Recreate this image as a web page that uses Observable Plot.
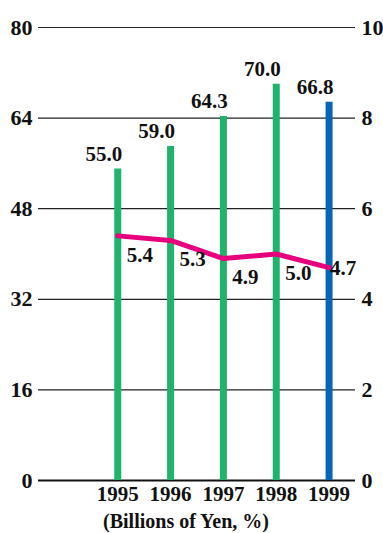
<!DOCTYPE html>
<html>
<head>
<meta charset="utf-8">
<script src="https://cdn.jsdelivr.net/npm/d3@7"></script>
<script src="https://cdn.jsdelivr.net/npm/@observablehq/plot@0.6"></script>
<style>
  html, body { margin: 0; padding: 0; background: #fff; }
  svg { display: block; }
  svg text, svg g { font-family: "Liberation Serif", "DejaVu Serif", serif !important; font-weight: bold; }
</style>
</head>
<body>
<div id="chart"></div>
<script>
const years = [1995, 1996, 1997, 1998, 1999];
const amounts = [55.0, 59.0, 64.3, 70.0, 66.8];       // billions of yen (left axis)
const percents = [5.4, 5.3, 4.9, 5.0, 4.7];           // % (right axis)
const barColors = ["#20b36b", "#20b36b", "#20b36b", "#20b36b", "#0766b3"];
const leftTicks = [0, 16, 32, 48, 64, 80];
const rightTicks = [0, 2, 4, 6, 8, 10];
const caption = "(Billions of Yen, %)";

const ratio = 80 / 10;
const data = years.map((y, i) => ({year: y, amount: amounts[i], pct: percents[i], color: barColors[i], i}));

const font = "Liberation Serif";

const plot = Plot.plot({
  width: 383,
  height: 533,
  marginLeft: 38,
  marginRight: 28,
  marginTop: 27,
  marginBottom: 53,
  style: {fontFamily: font, fontWeight: "bold", fontSize: "21px", color: "#111", background: "#fff"},
  x: {domain: [1993.5, 1999.5], axis: null},
  y: {domain: [0, 80], axis: null},
  marks: [
    Plot.ruleY(leftTicks.filter(d => d > 0), {stroke: "#222", strokeWidth: 1.2}),
    Plot.ruleY([0], {stroke: "#111", strokeWidth: 2}),
    Plot.axisY(leftTicks, {anchor: "left", tickSize: 0, tickPadding: 6, fontSize: 22, fontWeight: "bold", fontFamily: font, label: null}),
    Plot.axisY(rightTicks.map(d => d * ratio), {anchor: "right", tickSize: 0, tickPadding: 6, tickFormat: d => d / ratio, fontSize: 22, fontWeight: "bold", fontFamily: font, label: null}),
    Plot.axisX(years, {anchor: "bottom", tickSize: 0, tickPadding: 6, tickFormat: d => String(d), fontSize: 21, fontWeight: "bold", fontFamily: font, label: null}),
    Plot.ruleX(data, {x: "year", y1: 0, y2: "amount", stroke: "color", strokeWidth: 7}),
    Plot.text(data, {x: "year", y: "amount", text: d => d.amount.toFixed(1), dx: -14, dy: -8, lineAnchor: "bottom", fontSize: 21, fontWeight: "bold", fontFamily: font, fill: "#111"}),
    Plot.line(data, {x: "year", y: d => d.pct * ratio, stroke: "#e6007e", strokeWidth: 5, curve: "linear"}),
    Plot.text(data.filter(d => d.i < 4), {x: "year", y: d => d.pct * ratio, text: d => d.pct.toFixed(1), dx: 22, dy: 19, fontSize: 21, fontWeight: "bold", fontFamily: font, fill: "#111"}),
    Plot.text(data.filter(d => d.i === 4), {x: "year", y: d => d.pct * ratio, text: d => d.pct.toFixed(1), dx: 14, dy: 1, fontSize: 21, fontWeight: "bold", fontFamily: font, fill: "#111"}),
    Plot.text([caption], {frameAnchor: "bottom", text: d => d, dx: -11, dy: 33, lineAnchor: "top", fontSize: 20, fontWeight: "bold", fontFamily: font, fill: "#111"})
  ]
});
document.getElementById("chart").appendChild(plot);
</script>
</body>
</html>
